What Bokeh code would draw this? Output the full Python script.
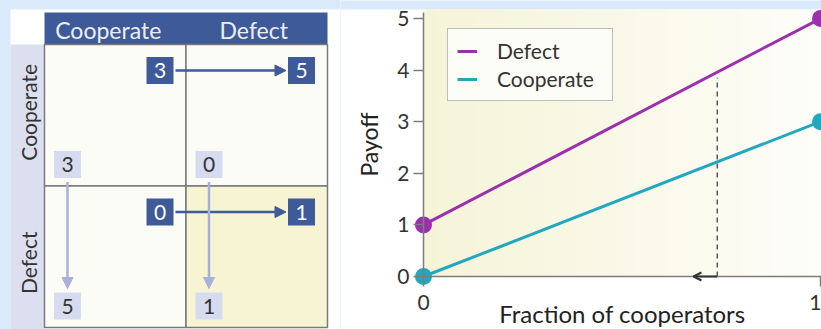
import numpy as np
from bokeh.plotting import figure
from bokeh.layouts import row
from bokeh.models import (Range1d, Arrow, NormalHead, OpenHead, Legend, LegendItem,
                          FixedTicker, Label)
from bokeh.core.properties import value
from bokeh.embed import file_html
from bokeh.resources import INLINE

# ---------------- data ----------------
strategies = ["Cooperate", "Defect"]
row_payoffs = [[3, 0], [5, 1]]      # payoff to the row player (light boxes)
col_payoffs = [[3, 5], [0, 1]]      # payoff to the column player (dark boxes)

fractions = [0, 1]
defect_payoff = [1, 5]
cooperate_payoff = [0, 3]
threshold_fraction = 0.74
threshold_top = 3.85
arrow_target = 0.68
y_ticks = [0, 1, 2, 3, 4, 5]
x_ticks = [0, 1]

# ---------------- styles ----------------
FONT = "Lato"
BLUE_BG = "#dbeafa"
DARK = "#3e5a99"
LAV = "#dcdff0"
LIGHT_BOX = "#d6dbef"
LIGHT_ARROW = "#a7b1dc"
CELL = "#fcfcf6"
CELL_HI = "#f6f4d2"
GRID = "#7a7a7a"
PURPLE = "#9b2fae"
TEAL = "#22a7c0"
TXT = "#333333"
AX = "#7d7d7d"

# ---------------- left panel: payoff matrix ----------------
lp = figure(width=340, height=329, x_range=Range1d(0, 340), y_range=Range1d(-329, 0),
            output_backend="svg", toolbar_location=None, min_border=0)
lp.axis.visible = False
lp.xgrid.visible = False
lp.ygrid.visible = False
lp.outline_line_color = None
lp.background_fill_color = BLUE_BG
lp.border_fill_color = BLUE_BG

M0 = 44.0     # matrix left / header bottom
C = 141.5     # cell size
HT = 12.0     # header top
B = 27.0      # payoff box size

lp.quad(left=[10], right=[341], top=[-9], bottom=[-330], fill_color="white", line_color=None)
lp.quad(left=[M0], right=[M0 + 2 * C], top=[-HT], bottom=[-M0], fill_color=DARK, line_color=None)
lp.quad(left=[10], right=[M0], top=[-M0], bottom=[-330], fill_color=LAV, line_color=None)

cl, cr, ct, cb, cf = [], [], [], [], []
for i in range(2):
    for j in range(2):
        cl.append(M0 + j * C); cr.append(M0 + (j + 1) * C)
        ct.append(-(M0 + i * C)); cb.append(-(M0 + (i + 1) * C))
        cf.append(CELL_HI if (i == 1 and j == 1) else CELL)
lp.quad(left=cl, right=cr, top=ct, bottom=cb, fill_color=cf, line_color=GRID, line_width=1.5)

lp.text(x=[M0 + C / 2 - 7, M0 + 1.5 * C - 3], y=[-(HT + M0) / 2 - 1] * 2, text=strategies,
        text_font=value(FONT), text_font_size="23px", text_color="#eceef6",
        text_align="center", text_baseline="middle")
lp.text(x=[28, 28], y=[-(M0 + C / 2 - 3), -(M0 + 1.5 * C + 6)], text=strategies, angle=np.pi / 2,
        text_font=value(FONT), text_font_size="21px", text_color=TXT,
        text_align="center", text_baseline="middle")

# arrows (drawn before boxes)
for i in range(2):
    yy = -(M0 + i * C + 26)
    xs = M0 + 115.5 + B / 2 + 2
    xe = M0 + C + 115.5 - B / 2 - 2
    lp.add_layout(Arrow(end=NormalHead(size=11, fill_color=DARK, line_color=DARK),
                        x_start=xs, y_start=yy, x_end=xe, y_end=yy,
                        line_color=DARK, line_width=2.5))
for j in range(2):
    xx = M0 + j * C + 23
    ys = -(M0 + 120 + B / 2 + 4)
    ye = -(M0 + C + 120 - B / 2 - 4)
    lp.add_layout(Arrow(end=NormalHead(size=11, fill_color=LIGHT_ARROW, line_color=LIGHT_ARROW),
                        x_start=xx, y_start=ys, x_end=xx, y_end=ye,
                        line_color=LIGHT_ARROW, line_width=2.5))

dx, dy, dt = [], [], []
lx, ly, lt = [], [], []
for i in range(2):
    for j in range(2):
        dx.append(M0 + j * C + 115.5); dy.append(-(M0 + i * C + 26)); dt.append(str(col_payoffs[i][j]))
        lx.append(M0 + j * C + 23); ly.append(-(M0 + i * C + 120)); lt.append(str(row_payoffs[i][j]))
lp.rect(x=dx, y=dy, width=B, height=B, fill_color=DARK, line_color=None)
lp.rect(x=lx, y=ly, width=B, height=B, fill_color=LIGHT_BOX, line_color=None)
lp.text(x=dx, y=dy, text=dt, text_font=value(FONT), text_font_size="21px", text_color="white",
        text_align="center", text_baseline="middle")
lp.text(x=lx, y=ly, text=lt, text_font=value(FONT), text_font_size="21px", text_color=TXT,
        text_align="center", text_baseline="middle")

# ---------------- right panel: payoff vs fraction ----------------
PX_X = 397.0    # pixels per unit fraction
PX_Y = 51.6     # pixels per unit payoff
X0 = (340 - 423) / PX_X
X1 = (821 - 423) / PX_X
Y0 = (276 - 329) / PX_Y
Y1 = 276 / PX_Y
YTOP = (276 - 9) / PX_Y
rp = figure(width=481, height=329, x_range=Range1d(X0, X1), y_range=Range1d(Y0, Y1),
            output_backend="svg", toolbar_location=None, min_border=0)
rp.xgrid.visible = False
rp.ygrid.visible = False
rp.outline_line_color = None
rp.border_fill_color = "white"
rp.background_fill_color = "white"

# light blue strip at top
rp.quad(left=[X0], right=[X1], bottom=[YTOP], top=[Y1], fill_color=BLUE_BG, line_color=None)

n = 240
t = np.linspace(0, 1, n)
c0 = np.array([246, 244, 216]); c1 = np.array([254, 254, 250])
rgb = (c0[None, :] * (1 - t[:, None]) + c1[None, :] * t[:, None]).astype(np.uint8)
img = np.zeros((1, n), dtype=np.uint32)
view = img.view(dtype=np.uint8).reshape((1, n, 4))
view[0, :, 0] = rgb[:, 0]; view[0, :, 1] = rgb[:, 1]; view[0, :, 2] = rgb[:, 2]; view[0, :, 3] = 255
rp.image_rgba(image=[img], x=0, y=0, dw=X1, dh=YTOP)

rp.segment(x0=[threshold_fraction], y0=[0], x1=[threshold_fraction], y1=[threshold_top],
           line_color="#555555", line_width=1.5, line_dash="5 4")
rp.add_layout(Arrow(end=OpenHead(size=8, line_color="#333333", line_width=2),
                    x_start=threshold_fraction, y_start=0, x_end=arrow_target, y_end=0,
                    line_color="#333333", line_width=2))

dl = rp.line(fractions, defect_payoff, line_color=PURPLE, line_width=3)
cl_ = rp.line(fractions, cooperate_payoff, line_color=TEAL, line_width=3)
rp.scatter(fractions, defect_payoff, size=17, fill_color=PURPLE, line_color=None)
rp.scatter(fractions, cooperate_payoff, size=17, fill_color=TEAL, line_color=None)

for ax in (rp.xaxis, rp.yaxis):
    ax.fixed_location = 0
    ax.axis_line_color = AX
    ax.axis_line_width = 1.5
    ax.major_tick_line_color = AX
    ax.major_tick_line_width = 1.5
    ax.major_tick_out = 10
    ax.major_tick_in = 0
    ax.minor_tick_line_color = None
    ax.major_label_text_font = FONT
    ax.major_label_text_font_size = "21px"
    ax.major_label_text_color = TXT
    ax.axis_label_text_font = FONT
    ax.axis_label_text_font_size = "23px"
    ax.axis_label_text_font_style = "normal"
    ax.axis_label_text_color = "#222222"
rp.xaxis.major_label_standoff = 8
rp.yaxis.major_label_standoff = 4
rp.xaxis.bounds = (0, X1)
rp.yaxis.bounds = (0, 5 + 6 / PX_Y)
rp.xaxis.ticker = FixedTicker(ticks=x_ticks)
rp.yaxis.ticker = FixedTicker(ticks=y_ticks)
rp.yaxis.axis_label = "Payoff"
rp.yaxis.axis_label_standoff = 11

rp.add_layout(Label(x=0.501, y=(276 - 313) / PX_Y, text="Fraction of cooperators", text_font=FONT,
                    text_font_size="24px", text_color="#222222", text_align="center",
                    text_baseline="alphabetic"))

legend = Legend(items=[LegendItem(label="Defect", renderers=[dl]),
                       LegendItem(label="Cooperate", renderers=[cl_])],
                location=(107, 228), padding=9, spacing=3, label_height=22, label_width=106,
                glyph_width=20, glyph_height=20, label_standoff=20, label_text_font=FONT,
                label_text_font_size="21px", label_text_color=TXT,
                border_line_color=AX, border_line_width=1.5,
                background_fill_color="#fdfdf8", background_fill_alpha=1.0, margin=0)
rp.add_layout(legend)

layout = row(lp, rp, spacing=0)
html = file_html(layout, INLINE)
html = html.replace("<body>", '<body style="background-color:%s;">' % BLUE_BG)
open("out.html", "w").write(html)
